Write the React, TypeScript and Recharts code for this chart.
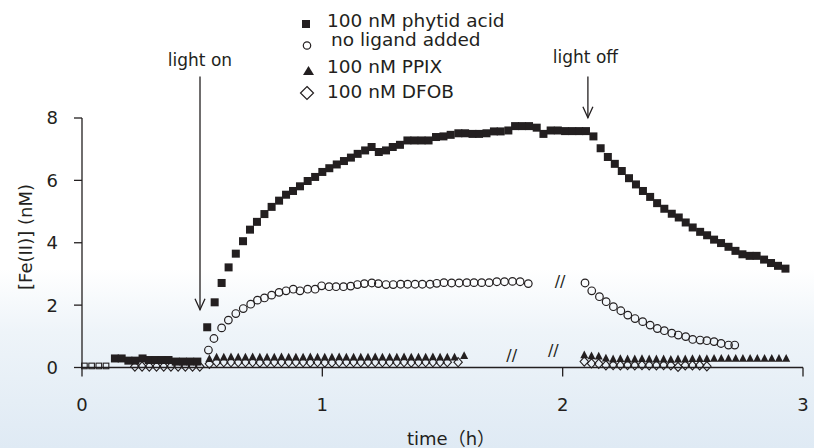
import React from 'react';
import { ScatterChart, Scatter, XAxis, YAxis, ReferenceLine, ReferenceDot } from 'recharts';

const INK = '#231f20';
const FONT = '"DejaVu Sans", "Noto Sans CJK SC", sans-serif';

const xTicks = [0, 1, 2, 3];
const yTicks = [0, 2, 4, 6, 8];

const legendLabels = ['100 nM phytid acid', 'no ligand added', '100 nM PPIX', '100 nM DFOB'];

// hollow squares before phytic acid addition
const phytidPre: [number, number][] = [
  [0.01, 0.05], [0.04, 0.05], [0.07, 0.05], [0.1, 0.05],
];

const phytid: [number, number][] = [
  [0.137, 0.29], [0.165, 0.29], [0.193, 0.22], [0.222, 0.22], [0.252, 0.29], [0.278, 0.24],
  [0.305, 0.24], [0.332, 0.24], [0.36, 0.24], [0.39, 0.19], [0.42, 0.19], [0.45, 0.19], [0.48, 0.19],
  [0.521, 1.29], [0.552, 2.09], [0.581, 2.71], [0.61, 3.21], [0.64, 3.65], [0.67, 4.05],
  [0.699, 4.42], [0.728, 4.67], [0.759, 4.92], [0.789, 5.15], [0.82, 5.35], [0.849, 5.54],
  [0.878, 5.66], [0.907, 5.81], [0.939, 5.98], [0.97, 6.11], [1.0, 6.27], [1.029, 6.39],
  [1.06, 6.51], [1.09, 6.62], [1.119, 6.73], [1.147, 6.85], [1.178, 6.96], [1.205, 7.07],
  [1.235, 6.91], [1.265, 6.96], [1.293, 7.07], [1.323, 7.14], [1.354, 7.28], [1.383, 7.28],
  [1.413, 7.28], [1.442, 7.28], [1.473, 7.39], [1.504, 7.41], [1.534, 7.46], [1.566, 7.51],
  [1.594, 7.51], [1.625, 7.49], [1.652, 7.49], [1.683, 7.51], [1.714, 7.57], [1.742, 7.57],
  [1.774, 7.6], [1.802, 7.74], [1.831, 7.74], [1.86, 7.74], [1.892, 7.69], [1.92, 7.49],
  [1.95, 7.6], [1.98, 7.6], [2.01, 7.58], [2.04, 7.58], [2.069, 7.58], [2.097, 7.58],
  [2.128, 7.41], [2.158, 7.03], [2.188, 6.75], [2.217, 6.53], [2.246, 6.3], [2.276, 6.07],
  [2.305, 5.87], [2.334, 5.66], [2.364, 5.47], [2.393, 5.27], [2.423, 5.09], [2.454, 4.93],
  [2.483, 4.81], [2.512, 4.65], [2.541, 4.49], [2.572, 4.35], [2.601, 4.24], [2.63, 4.1],
  [2.659, 3.99], [2.69, 3.87], [2.719, 3.74], [2.748, 3.63], [2.778, 3.58], [2.807, 3.58],
  [2.838, 3.46], [2.867, 3.35], [2.896, 3.26], [2.927, 3.17],
];

const noLigand: [number, number][] = [
  [0.526, 0.56], [0.549, 0.93], [0.581, 1.27], [0.609, 1.52], [0.64, 1.73], [0.671, 1.89],
  [0.702, 2.03], [0.73, 2.16], [0.759, 2.23], [0.789, 2.32], [0.82, 2.41], [0.849, 2.46],
  [0.879, 2.51], [0.907, 2.46], [0.939, 2.51], [0.97, 2.51], [0.997, 2.62], [1.028, 2.59],
  [1.057, 2.59], [1.088, 2.59], [1.118, 2.61], [1.146, 2.66], [1.175, 2.69], [1.206, 2.71],
  [1.233, 2.69], [1.265, 2.66], [1.295, 2.66], [1.326, 2.67], [1.355, 2.67], [1.386, 2.67],
  [1.416, 2.67], [1.448, 2.67], [1.476, 2.7], [1.506, 2.72], [1.538, 2.71], [1.569, 2.71],
  [1.601, 2.72], [1.631, 2.72], [1.663, 2.72], [1.694, 2.72], [1.726, 2.75], [1.758, 2.75],
  [1.791, 2.76], [1.823, 2.75], [1.857, 2.69],
  [2.093, 2.71], [2.121, 2.46], [2.153, 2.27], [2.181, 2.11], [2.211, 1.95], [2.242, 1.82],
  [2.271, 1.68], [2.301, 1.57], [2.333, 1.47], [2.364, 1.36], [2.394, 1.25], [2.423, 1.18],
  [2.454, 1.1], [2.481, 1.04], [2.512, 0.99], [2.541, 0.9], [2.572, 0.88], [2.6, 0.86],
  [2.63, 0.83], [2.659, 0.77], [2.69, 0.72], [2.716, 0.72],
];

const ppix: [number, number][] = [
  [0.53, 0.28], [0.56, 0.33], [0.59, 0.33], [0.62, 0.34], [0.65, 0.33], [0.68, 0.33],
  [0.71, 0.34], [0.74, 0.33], [0.77, 0.33], [0.8, 0.33], [0.83, 0.34], [0.86, 0.33],
  [0.89, 0.33], [0.92, 0.33], [0.95, 0.34], [0.98, 0.33], [1.01, 0.33], [1.04, 0.33],
  [1.07, 0.34], [1.1, 0.33], [1.13, 0.33], [1.16, 0.33], [1.19, 0.33], [1.22, 0.34],
  [1.25, 0.33], [1.28, 0.33], [1.31, 0.33], [1.34, 0.34], [1.37, 0.33], [1.4, 0.33],
  [1.43, 0.33], [1.46, 0.34], [1.49, 0.33], [1.52, 0.33], [1.55, 0.33], [1.59, 0.38],
  [2.09, 0.4], [2.12, 0.37], [2.15, 0.36], [2.18, 0.3], [2.21, 0.27], [2.24, 0.28],
  [2.27, 0.27], [2.3, 0.27], [2.33, 0.28], [2.36, 0.27], [2.39, 0.27], [2.42, 0.27],
  [2.45, 0.26], [2.48, 0.27], [2.51, 0.27], [2.54, 0.28], [2.57, 0.28], [2.6, 0.28],
  [2.63, 0.29], [2.66, 0.29], [2.69, 0.29], [2.72, 0.29], [2.75, 0.29], [2.78, 0.29],
  [2.81, 0.29], [2.84, 0.29], [2.87, 0.29], [2.9, 0.29], [2.93, 0.29],
];

const dfob: [number, number][] = [
  [0.22, 0.03], [0.25, 0.03], [0.28, 0.03], [0.31, 0.03], [0.34, 0.03], [0.37, 0.03],
  [0.4, 0.03], [0.43, 0.03], [0.46, 0.03], [0.49, 0.03],
  [0.53, 0.12], [0.56, 0.17], [0.59, 0.17], [0.62, 0.17], [0.65, 0.17], [0.68, 0.17],
  [0.71, 0.17], [0.74, 0.16], [0.77, 0.17], [0.8, 0.17], [0.83, 0.17], [0.86, 0.17],
  [0.89, 0.17], [0.92, 0.17], [0.95, 0.16], [0.98, 0.17], [1.01, 0.16], [1.04, 0.16],
  [1.07, 0.17], [1.1, 0.17], [1.13, 0.17], [1.16, 0.17], [1.19, 0.17], [1.22, 0.17],
  [1.25, 0.17], [1.28, 0.17], [1.31, 0.17], [1.34, 0.17], [1.37, 0.16], [1.4, 0.17],
  [1.43, 0.17], [1.46, 0.17], [1.49, 0.17], [1.52, 0.17], [1.565, 0.17],
  [2.09, 0.19], [2.12, 0.13], [2.15, 0.12], [2.18, 0.07], [2.21, 0.08], [2.24, 0.07],
  [2.27, 0.08], [2.3, 0.07], [2.33, 0.08], [2.36, 0.07], [2.39, 0.07], [2.42, 0.08],
  [2.45, 0.07], [2.48, 0.02], [2.51, 0.07], [2.54, 0.07], [2.57, 0.07], [2.6, 0.04],
];

// break marks "//" on the curves
const breakMarks: [number, number][] = [[1.989, 2.75], [1.788, 0.4], [1.961, 0.54]];

const toPts = (arr: [number, number][]) => arr.map(([t, v]) => ({ t, v }));

const SquareFilled = (p: any) => (
  <rect x={p.cx - 4} y={p.cy - 4} width={8} height={8} fill={INK} />
);
const SquareHollow = (p: any) => (
  <rect x={p.cx - 2.8} y={p.cy - 2.8} width={5.6} height={5.6} fill="none" stroke={INK} strokeWidth={1.1} />
);
const CircleHollow = (p: any) => (
  <circle cx={p.cx} cy={p.cy} r={3.8} fill="none" stroke={INK} strokeWidth={1.2} />
);
const TriangleFilled = (p: any) => (
  <path d={`M${p.cx},${p.cy - 4.5} L${p.cx + 4},${p.cy + 3.3} L${p.cx - 4},${p.cy + 3.3} Z`} fill={INK} />
);
const DiamondHollow = (p: any) => (
  <path
    d={`M${p.cx},${p.cy - 4.6} L${p.cx + 4.2},${p.cy} L${p.cx},${p.cy + 4.6} L${p.cx - 4.2},${p.cy} Z`}
    fill="none"
    stroke={INK}
    strokeWidth={1.1}
  />
);

const makeArrow = (label: string, dx: number, dy: number) => (p: any) => {
  const { x1, y1, x2, y2 } = p;
  return (
    <g>
      <line x1={x1} y1={y1} x2={x2} y2={y2} stroke={INK} strokeWidth={1.3} />
      <path d={`M${x2 - 5},${y2 - 11} L${x2},${y2} L${x2 + 5},${y2 - 11}`} fill="none" stroke={INK} strokeWidth={1.3} />
      <text x={x1 + dx} y={y1 + dy} textAnchor="middle" fontSize={17} fontFamily={FONT} fill={INK}>
        {label}
      </text>
    </g>
  );
};

const BreakMark = (p: any) => (
  <text x={p.cx} y={p.cy} textAnchor="middle" dominantBaseline="central" fontSize={16} fontFamily={FONT} fill={INK}>
    //
  </text>
);

const LegendOverlay = () => (
  <svg width={814} height={110} style={{ position: 'absolute', left: 0, top: 0, pointerEvents: 'none' }}>
    <rect x={302} y={20} width={8} height={8} fill={INK} />
    <circle cx={307} cy={45.5} r={3.7} fill="none" stroke={INK} strokeWidth={1.2} />
    <path d="M308.5,66 L314,75 L303,75 Z" fill={INK} />
    <path d="M307,86.5 L313.5,93 L307,99.5 L300.5,93 Z" fill="none" stroke={INK} strokeWidth={1.2} />
    <g fontSize={18.5} fontFamily={FONT} fill={INK}>
      <text x={327} y={27}>{legendLabels[0]}</text>
      <text x={331} y={46}>{legendLabels[1]}</text>
      <text x={327} y={73}>{legendLabels[2]}</text>
      <text x={327} y={98}>{legendLabels[3]}</text>
    </g>
  </svg>
);

export default function App() {
  return (
    <div
      style={{
        position: 'absolute',
        left: 0,
        top: 0,
        width: 814,
        height: 448,
        background: 'linear-gradient(to bottom, #ffffff 0%, #ffffff 60%, #eef4f9 74%, #dfeaf4 100%)',
      }}
    >
      <ScatterChart width={814} height={448} margin={{ top: 118, right: 11, bottom: 50, left: 22 }}>
        <XAxis
          type="number"
          dataKey="t"
          domain={[0, 3]}
          ticks={xTicks}
          interval={0}
          height={30.5}
          tickSize={9}
          tickMargin={22}
          axisLine={{ stroke: INK, strokeWidth: 1.3 }}
          tickLine={{ stroke: INK, strokeWidth: 1.3 }}
          tick={{ fill: INK, fontSize: 18, fontFamily: FONT }}
          label={() => (
            <text x={407} y={445} textAnchor="start" fontSize={18} fontFamily={FONT} fill={INK}>
              time（h）
            </text>
          )}
        />
        <YAxis
          type="number"
          dataKey="v"
          domain={[0, 8]}
          ticks={yTicks}
          interval={0}
          width={60}
          tickSize={8}
          tickMargin={16}
          axisLine={{ stroke: INK, strokeWidth: 1.3 }}
          tickLine={{ stroke: INK, strokeWidth: 1.3 }}
          tick={{ fill: INK, fontSize: 18, fontFamily: FONT }}
          label={() => (
            <text
              x={25}
              y={237}
              transform="rotate(-90 25 237)"
              textAnchor="middle"
              dominantBaseline="central"
              fontSize={18}
              fontFamily={FONT}
              fill={INK}
            >
              [Fe(II)] (nM)
            </text>
          )}
        />
        <Scatter name="100 nM DFOB" data={toPts(dfob)} shape={DiamondHollow} isAnimationActive={false} />
        <Scatter name="100 nM PPIX" data={toPts(ppix)} shape={TriangleFilled} isAnimationActive={false} />
        <Scatter name="no ligand added" data={toPts(noLigand)} shape={CircleHollow} isAnimationActive={false} />
        <Scatter name="phytid pre" data={toPts(phytidPre)} shape={SquareHollow} isAnimationActive={false} />
        <Scatter name="100 nM phytid acid" data={toPts(phytid)} shape={SquareFilled} isAnimationActive={false} />
        <ReferenceLine
          segment={[{ x: 0.491, y: 9.33 }, { x: 0.491, y: 1.85 }]}
          ifOverflow="visible"
          shape={makeArrow('light on', 0, -11)}
        />
        <ReferenceLine
          segment={[{ x: 2.105, y: 9.33 }, { x: 2.105, y: 8.01 }]}
          ifOverflow="visible"
          shape={makeArrow('light off', -2.5, -14)}
        />
        {breakMarks.map(([t, v], i) => (
          <ReferenceDot key={i} x={t} y={v} r={1} shape={BreakMark} ifOverflow="visible" />
        ))}
      </ScatterChart>
      <LegendOverlay />
    </div>
  );
}
